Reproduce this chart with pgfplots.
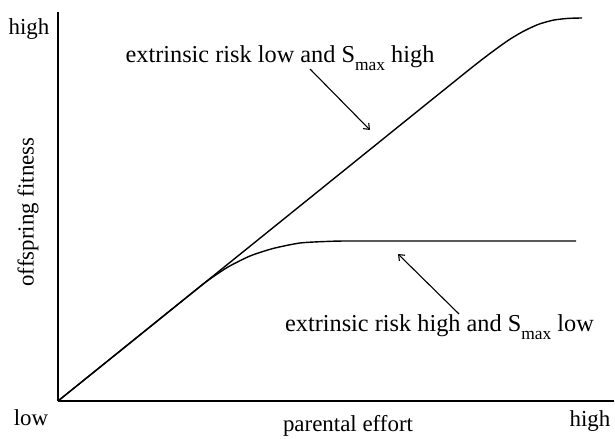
\documentclass[border=0pt]{standalone}
\usepackage{fontspec}
\setmainfont{Liberation Serif}
\usepackage{pgfplots}
\pgfplotsset{compat=1.18}
\usetikzlibrary{arrows.meta}

\newcommand{\smax}{S\raisebox{-0.32em}{\fontsize{17.5}{18}\selectfont max}}

\begin{document}
\begin{tikzpicture}[lbl/.style={font=\fontsize{23}{27}\selectfont, inner sep=0pt},
                    ann/.style={font=\fontsize{24.4}{28}\selectfont, inner sep=0pt}]
\begin{axis}[
    scale only axis,
    width=556bp, height=389bp,
    xmin=0, xmax=556,
    ymin=0, ymax=389,
    axis lines=left,
    axis line style={-, line width=2bp},
    xtick=\empty, ytick=\empty,
    clip=false,
]
% upper curve: extrinsic risk low, S_max high
\addplot[black, line width=1.4bp, smooth, tension=0.4] coordinates {
    (0,0) (200,161.2) (400,322.4) (430,346) (450,360.5) (465,369.5)
    (480,376.5) (495,380.8) (510,382.6) (524,383)
};
% lower curve: extrinsic risk high, S_max low
\addplot[black, line width=1.4bp, smooth, tension=0.4] coordinates {
    (0,0) (70,56.4) (140,112.8) (152,122) (170,134) (192,145) (215,152.5)
    (242,158) (270,159.6) (292,160) (400,160) (518,160)
};

\draw[line width=1.1bp, -{Straight Barb[length=5bp,width=8bp]}] (axis cs:252,332) -- (axis cs:312,271);
\draw[line width=1.1bp, -{Straight Barb[length=5bp,width=8bp]}] (axis cs:401,87) -- (axis cs:340,147);

\node[ann, anchor=base] at (axis cs:222,338) {extrinsic risk low and \smax{} high};
\node[ann, anchor=base] at (axis cs:381.5,69) {extrinsic risk high and \smax{} low};

\node[lbl, anchor=base] at (axis cs:-29,366) {high};
\node[lbl, anchor=base] at (axis cs:-27,-24) {low};
\node[lbl, anchor=base] at (axis cs:532,-25) {high};
\node[lbl, anchor=base] at (axis cs:290,-30) {parental effort};
\node[lbl, rotate=90] at (axis cs:-30,189) {offspring fitness};

\coordinate (bl) at (axis cs:-58,-38);
\coordinate (tr) at (axis cs:557,401);
\end{axis}
\pgfresetboundingbox
\path (bl) rectangle (tr);
\end{tikzpicture}
\end{document}
